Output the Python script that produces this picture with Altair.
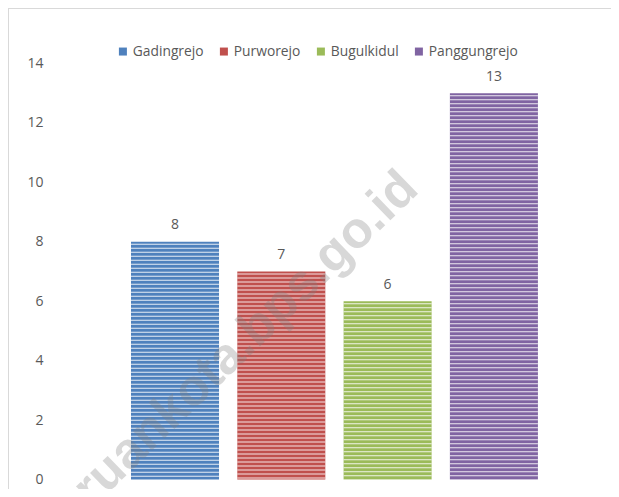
import altair as alt
import pandas as pd

# ---- data ----
categories = ["Gadingrejo", "Purworejo", "Bugulkidul", "Panggungrejo"]
values = [8, 7, 6, 13]
colors = ["#4F81BD", "#C0504D", "#9BBB59", "#8064A2"]
y_ticks = [0, 2, 4, 6, 8, 10, 12, 14]
watermark_text = ["pasuruankota.bps.go.id"]

df = pd.DataFrame({"kec": categories, "n": values})

# ---- layout (page content must stay within 603 x 481) ----
W, H = 561, 416
PAD = {"left": 42, "top": 55.5, "right": 0, "bottom": 9.5}
STEP = 106.3
PI = 0.172
n_cat = len(categories)
PO = (W / STEP - (n_cat - PI)) / 2
ALIGN = 81 / (2 * PO * STEP)
bw = STEP * (1 - PI)

FONT = "Open Sans"
GREY = "#595959"

x = alt.X("kec:N", sort=categories, axis=None,
          scale=alt.Scale(paddingInner=PI, paddingOuter=PO, align=ALIGN))
y = alt.Y("n:Q", scale=alt.Scale(domain=[0, 14], nice=False),
          axis=alt.Axis(values=y_ticks, title=None, grid=False, domain=False,
                        ticks=False, labelPadding=7, labelFont=FONT,
                        labelFontSize=14, labelColor=GREY))

base = alt.Chart(df)

bars = base.mark_bar().encode(
    x=x, y=y,
    color=alt.Color("kec:N", sort=categories,
                    scale=alt.Scale(domain=categories, range=colors),
                    legend=alt.Legend(orient="none", legendX=66, legendY=-19,
                                      direction="horizontal", title=None,
                                      symbolType="square", symbolSize=64,
                                      symbolStrokeWidth=0, labelFont=FONT,
                                      labelFontSize=13.8, labelColor=GREY,
                                      columnPadding=13, labelOffset=3,
                                      padding=0)),
)

stripes = base.mark_rule(color="white", strokeWidth=bw, strokeDash=[1, 3],
                         strokeDashOffset=2, opacity=0.85, strokeCap="butt").encode(
    x=x, y=alt.Y("n:Q"), y2=alt.datum(0)
)

labels = base.mark_text(baseline="alphabetic", dy=-12.5, font=FONT,
                        fontSize=14, color=GREY).encode(
    x=x, y=alt.Y("n:Q"), text="n:Q"
)

wm = alt.Chart(pd.DataFrame({"t": watermark_text})).mark_text(
    angle=316, align="right", baseline="middle", font="Liberation Sans",
    fontWeight="bold", fontSize=51, color="#7f7f7f", opacity=0.3
).encode(x=alt.value(360), y=alt.value(117), text="t:N")

one = pd.DataFrame({"k": [0]})
frame_top = alt.Chart(one).mark_rule(color="#d9d9d9", strokeWidth=1).encode(
    x=alt.value(-PAD["left"]), x2=alt.value(W), y=alt.value(-PAD["top"] + 0.5)
)
frame_left = alt.Chart(one).mark_rule(color="#d9d9d9", strokeWidth=1).encode(
    x=alt.value(-PAD["left"] + 0.5), y=alt.value(-PAD["top"]),
    y2=alt.value(H + PAD["bottom"])
)

chart = alt.layer(bars, stripes, labels, wm, frame_top, frame_left).properties(
    width=W, height=H,
    autosize=alt.AutoSizeParams(type="none"),
    padding=PAD,
).configure_view(stroke=None)

chart.save("out.html", embed_options={"renderer": "svg", "actions": False})
